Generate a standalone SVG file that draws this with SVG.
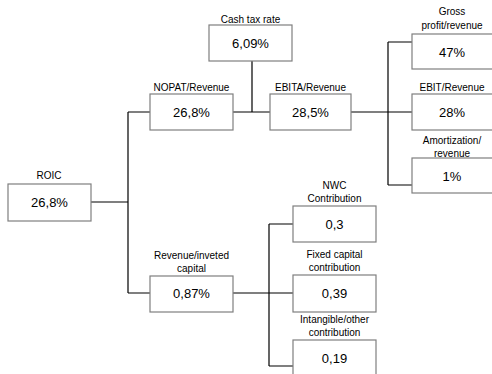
<svg xmlns="http://www.w3.org/2000/svg" width="492" height="374" viewBox="0 0 492 374">
<style>
.b{fill:#fff;stroke:#7f7f7f;stroke-width:1.2}
.l{font-family:"Liberation Sans",Arial,sans-serif;font-size:10px;fill:#000;text-anchor:middle}
.v{font-family:"Liberation Sans",Arial,sans-serif;font-size:13px;fill:#000;text-anchor:middle}
.c{fill:none;stroke:#000;stroke-width:1.2}
</style>
<rect width="492" height="374" fill="#fff"/>
<g id="connectors">
<path class="c" d="M91 202H128M128 112V293M128 112H150M128 293H150"/>
<path class="c" d="M233 112H270M252 61V112"/>
<path class="c" d="M351 112H412M388 42V185M388 42H412M388 185H412"/>
<path class="c" d="M233 293H293M269 224V366M269 224H293M269 366H293"/>
</g>
<g id="roic"><text class="l" x="49" y="179">ROIC</text><rect class="b" x="8" y="184" width="83" height="37"/><text class="v" x="49.5" y="207">26,8%</text></g>
<g id="nopat"><text class="l" x="191.5" y="91">NOPAT/Revenue</text><rect class="b" x="150" y="94" width="83" height="36"/><text class="v" x="191.5" y="117">26,8%</text></g>
<g id="cashtax"><text class="l" x="250.5" y="23">Cash tax rate</text><rect class="b" x="209" y="25" width="83" height="36"/><text class="v" x="250.5" y="48">6,09%</text></g>
<g id="ebita"><text class="l" x="310.5" y="91">EBITA/Revenue</text><rect class="b" x="270" y="94" width="81" height="36"/><text class="v" x="310.5" y="117">28,5%</text></g>
<g id="gross"><text class="l" x="452" y="15">Gross</text><text class="l" x="452" y="29">profit/revenue</text><rect class="b" x="412" y="34" width="83" height="35"/><text class="v" x="452" y="57">47%</text></g>
<g id="ebit"><text class="l" x="452" y="91">EBIT/Revenue</text><rect class="b" x="412" y="94" width="83" height="36"/><text class="v" x="452" y="117">28%</text></g>
<g id="amort"><text class="l" x="452" y="144">Amortization/</text><text class="l" x="452" y="157">revenue</text><rect class="b" x="412" y="158" width="83" height="35"/><text class="v" x="452" y="181">1%</text></g>
<g id="revinv"><text class="l" x="191.5" y="259">Revenue/inveted</text><text class="l" x="191.5" y="272">capital</text><rect class="b" x="150" y="276" width="83" height="36"/><text class="v" x="191.5" y="298">0,87%</text></g>
<g id="nwc"><text class="l" x="334.5" y="189">NWC</text><text class="l" x="334.5" y="202">Contribution</text><rect class="b" x="293" y="206" width="83" height="36"/><text class="v" x="334.5" y="229">0,3</text></g>
<g id="fixed"><text class="l" x="334.5" y="258">Fixed capital</text><text class="l" x="334.5" y="271">contribution</text><rect class="b" x="293" y="275" width="83" height="37"/><text class="v" x="334.5" y="298">0,39</text></g>
<g id="intang"><text class="l" x="334.5" y="323">Intangible/other</text><text class="l" x="334.5" y="336">contribution</text><rect class="b" x="293" y="340" width="83" height="40"/><text class="v" x="334.5" y="363">0,19</text></g>
</svg>
